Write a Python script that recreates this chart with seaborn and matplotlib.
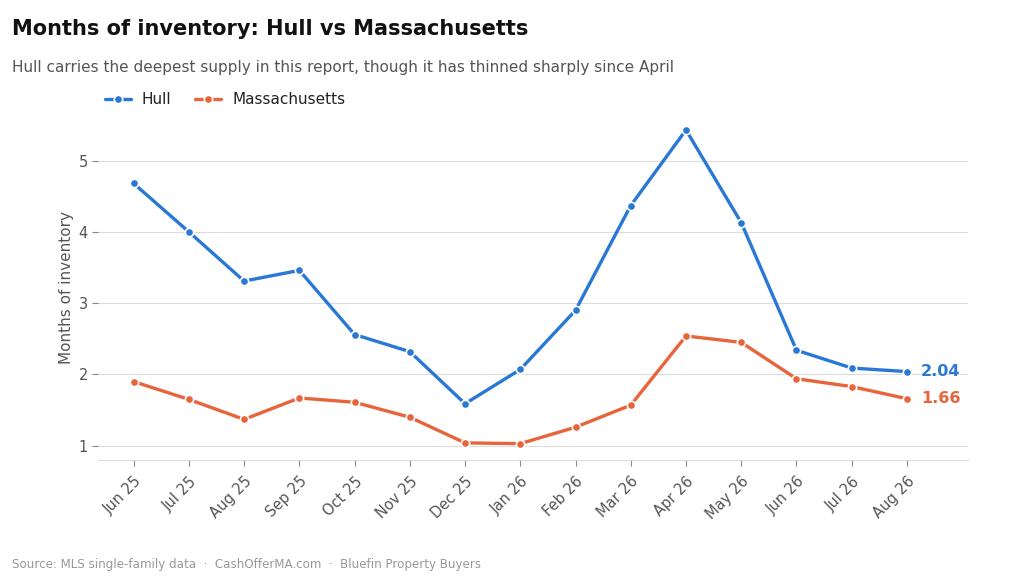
import pandas as pd
import numpy as np
import matplotlib
matplotlib.use("Agg")
import matplotlib.pyplot as plt
import seaborn as sns

# values
months = ["Jun 25", "Jul 25", "Aug 25", "Sep 25", "Oct 25", "Nov 25", "Dec 25",
          "Jan 26", "Feb 26", "Mar 26", "Apr 26", "May 26", "Jun 26", "Jul 26", "Aug 26"]
hull = [4.68, 4.00, 3.31, 3.46, 2.56, 2.32, 1.59, 2.07, 2.90, 4.37, 5.43, 4.13, 2.34, 2.09, 2.04]
mass = [1.90, 1.65, 1.37, 1.67, 1.61, 1.40, 1.04, 1.03, 1.26, 1.57, 2.54, 2.45, 1.94, 1.83, 1.66]

blue = "#2a78d6"
orange = "#e8643a"

data = pd.DataFrame({
    "month": months * 2,
    "value": hull + mass,
    "area": ["Hull"] * len(months) + ["Massachusetts"] * len(months),
})
data["idx"] = list(range(len(months))) * 2

sns.set_theme(style="whitegrid")
plt.rcParams["font.family"] = ["DejaVu Sans"]

fig = plt.figure(figsize=(10.24, 5.86), dpi=100)
ax = fig.add_axes([0.096, 0.215, 0.849, 0.59])

sns.lineplot(data=data, x="idx", y="value", hue="area",
             palette={"Hull": blue, "Massachusetts": orange},
             marker="o", markersize=6, markeredgecolor="white", markeredgewidth=1.2,
             linewidth=2.4, ax=ax)

ax.set_xlim(-0.64, 15.1)
ax.set_ylim(0.8, 5.65)
ax.set_xticks(range(len(months)))
ax.set_xticklabels(months, rotation=45, ha="right", rotation_mode="anchor")
ax.set_yticks([1, 2, 3, 4, 5])
ax.tick_params(axis="both", colors="#555555", labelsize=10.5, length=4, width=0.8,
               color="#888888", left=True, bottom=True)
ax.tick_params(axis="x", pad=6)
ax.grid(axis="x", visible=False)
ax.grid(axis="y", color="#dddddd", linewidth=0.8)
ax.set_xlabel("")
ax.set_ylabel("Months of inventory", fontsize=11, color="#555555", labelpad=3)
for s in ["left", "right", "top"]:
    ax.spines[s].set_visible(False)
ax.spines["bottom"].set_color("#dddddd")
ax.spines["bottom"].set_linewidth(0.8)

# end labels
ax.text(len(months) - 1 + 0.25, hull[-1], f"{hull[-1]:.2f}", color=blue,
        fontsize=11.5, fontweight="bold", va="center", ha="left")
ax.text(len(months) - 1 + 0.25, mass[-1], f"{mass[-1]:.2f}", color=orange,
        fontsize=11.5, fontweight="bold", va="center", ha="left")

leg = ax.legend(loc="lower left", bbox_to_anchor=(-0.005, 0.99), ncol=2, frameon=False,
                fontsize=11, handlelength=1.7, handletextpad=0.7, columnspacing=1.6,
                borderaxespad=0.3)
for t in leg.get_texts():
    t.set_color("#222222")

fig.text(0.012, 0.95, "Months of inventory: Hull vs Massachusetts",
         fontsize=15, fontweight="bold", color="#111111", va="center")
fig.text(0.012, 0.884, "Hull carries the deepest supply in this report, though it has thinned sharply since April",
         fontsize=11, color="#555555", va="center")
fig.text(0.012, 0.036, "Source: MLS single-family data  \u00b7  CashOfferMA.com  \u00b7  Bluefin Property Buyers",
         fontsize=8.6, color="#999999", va="center")

fig.savefig("out.png", dpi=100)
